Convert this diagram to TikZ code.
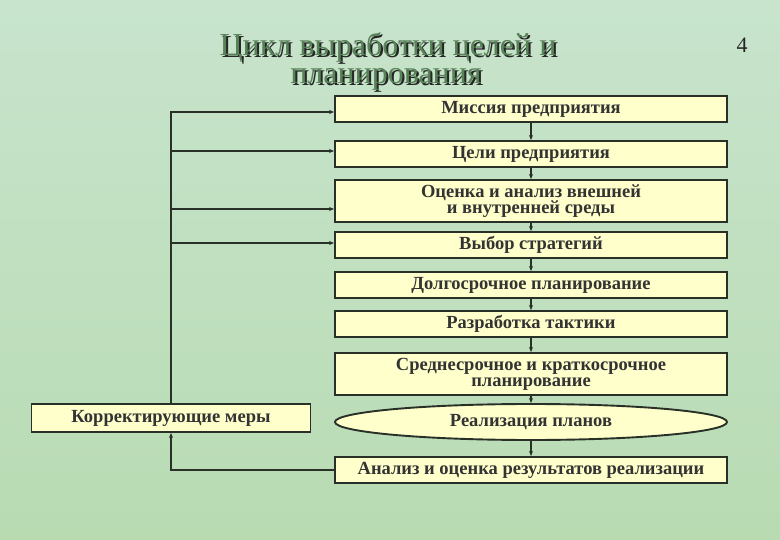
\documentclass[tikz,border=0pt]{standalone}
\usepackage{fontspec}
\setmainfont{Liberation Serif}
\usetikzlibrary{shapes.geometric,arrows.meta}

\definecolor{fon}{RGB}{184,219,178}
\definecolor{fonsvet}{RGB}{200,228,205}
\definecolor{blok}{RGB}{255,255,204}
\definecolor{linia}{RGB}{40,48,40}
\definecolor{zag}{RGB}{88,130,88}

% zagolovok s tenyu
\newcommand{\tenzag}[1]{\makebox[0pt][l]{\kern2pt\raisebox{-2pt}{\color{black!85}#1}}{\color{zag}#1}}

\tikzset{
  blok/.style={draw=linia,line width=1.9pt,fill=blok,text=black!80,
    font=\bfseries\fontsize{18.5}{16}\selectfont,minimum width=392pt,
    minimum height=26pt,inner sep=0pt,align=center},
  zagl/.style={font=\fontsize{32}{29}\selectfont,inner sep=0pt},
  strelka/.style={-{Stealth[length=5pt,width=4pt]},line width=1.4pt,draw=linia},
}

\begin{document}
\begin{tikzpicture}[x=1pt,y=-1pt]
\shade[top color=fonsvet,bottom color=fon] (0,0) rectangle (780,540);
\useasboundingbox (0,0) rectangle (780,540);
% zagolovok
\node[zagl,anchor=base] (Z1) at (388,56) {\tenzag{Цикл выработки целей и}};
\node[zagl,anchor=base] (Z2) at (386,84) {\tenzag{планирования}};
\node[text=black!85,font=\fontsize{22}{22}\selectfont] (N) at (742,45) {4};
% bloki
\node[blok] (M) at (531,109) {Миссия предприятия};
\node[blok] (C) at (531,154) {Цели предприятия};
\node[blok,minimum height=42pt] (O) at (531,201) {Оценка и анализ внешней\\и внутренней среды};
\node[blok] (V) at (531,245) {Выбор стратегий};
\node[blok] (D) at (531,285) {Долгосрочное планирование};
\node[blok] (R) at (531,324) {Разработка тактики};
\node[blok,minimum height=42pt] (S) at (531,374) {Среднесрочное и краткосрочное\\планирование};
\node[blok,ellipse,minimum height=36pt] (E) at (531,422) {Реализация планов};
\node[blok] (A) at (531,470) {Анализ и оценка результатов реализации};
\node[blok,minimum width=279pt,minimum height=28pt] (K) at (171,418) {Корректирующие меры};
% strelki vniz
\draw[strelka] (M)--(C);
\draw[strelka] (C)--(O);
\draw[strelka] (O)--(V);
\draw[strelka] (V)--(D);
\draw[strelka] (D)--(R);
\draw[strelka] (R)--(S);
\draw[strelka] (S)--(E);
\draw[strelka] (E)--(A);
% obratnaya svyaz
\draw[strelka] (A.west) -| (K.south);
\draw[strelka] (K.north) |- ([yshift=-3pt]M.west);
\draw[strelka] (K.north |- C.west) ++(0,-3) -- ([yshift=3pt]C.west);
\draw[strelka] (K.north |- O.west) ++(0,8) -- ([yshift=-8pt]O.west);
\draw[strelka] (K.north |- V.west) ++(0,-2) -- ([yshift=2pt]V.west);
\end{tikzpicture}
\end{document}
